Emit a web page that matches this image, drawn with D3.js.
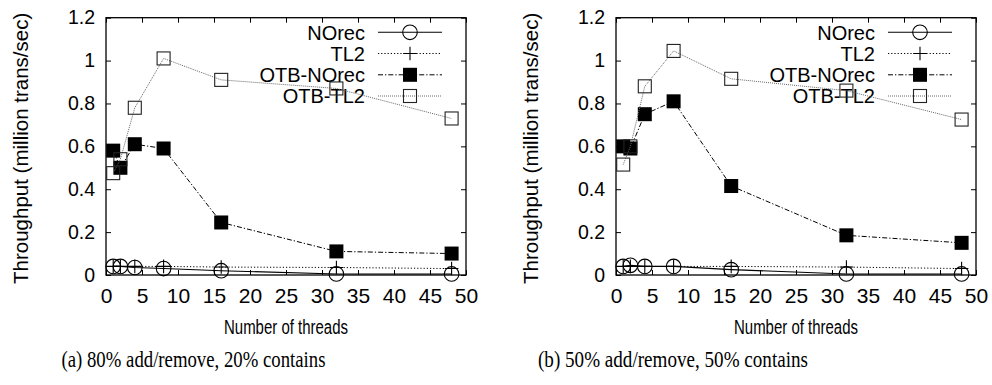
<!DOCTYPE html>
<html>
<head>
<meta charset="utf-8">
<script src="https://cdn.jsdelivr.net/npm/d3@7/dist/d3.min.js"></script>
<style>
  html, body { margin: 0; padding: 0; background: #fff; }
  svg { display: block; }
</style>
</head>
<body>
<svg id="chart" width="992" height="385"></svg>
<script>
// ---- data ----
const threads = [1, 2, 4, 8, 16, 32, 48];
const seriesNames = ["NOrec", "TL2", "OTB-NOrec", "OTB-TL2"];

const norecA    = [0.040, 0.040, 0.035, 0.030, 0.020, 0.005, 0.005];
const tl2A      = [0.040, 0.040, 0.040, 0.040, 0.037, 0.035, 0.030];
const otbNorecA = [0.580, 0.500, 0.610, 0.590, 0.245, 0.110, 0.100];
const otbTl2A   = [0.475, 0.540, 0.780, 1.010, 0.910, 0.870, 0.730];

const norecB    = [0.040, 0.045, 0.040, 0.040, 0.025, 0.005, 0.005];
const tl2B      = [0.040, 0.040, 0.040, 0.040, 0.040, 0.037, 0.030];
const otbNorecB = [0.600, 0.590, 0.750, 0.810, 0.415, 0.185, 0.150];
const otbTl2B   = [0.515, 0.600, 0.880, 1.045, 0.915, 0.860, 0.725];

const xTickValues = [0, 5, 10, 15, 20, 25, 30, 35, 40, 45, 50];
const yTickValues = [0, 0.2, 0.4, 0.6, 0.8, 1, 1.2];
const yTickLabels = ["0", "0.2", "0.4", "0.6", "0.8", "1", "1.2"];

const xTitle = "Number of threads";
const yTitle = "Throughput (million trans/sec)";
const captions = ["(a) 80% add/remove, 20% contains", "(b) 50% add/remove, 50% contains"];

// ---- styles ----
const styles = {
  "NOrec":     { stroke: "#000", dash: null,          width: 1.1, marker: "circle" },
  "TL2":       { stroke: "#000", dash: "1.2,2",       width: 1.0, marker: "plus" },
  "OTB-NOrec": { stroke: "#000", dash: "5,2,1.3,2",   width: 1.0, marker: "fsquare" },
  "OTB-TL2":   { stroke: "#666", dash: "1,1",         width: 1.0, marker: "osquare" }
};

const svg = d3.select("#chart");
const sans = "'Liberation Sans', Arial, Helvetica, sans-serif";

function drawMarker(g, type, cx, cy) {
  if (type === "circle") {
    g.append("circle").attr("cx", cx).attr("cy", cy).attr("r", 7.3)
      .attr("fill", "none").attr("stroke", "#000").attr("stroke-width", 1.1);
  } else if (type === "plus") {
    const s = 6.8;
    g.append("path").attr("d", `M${cx - s},${cy}H${cx + s}M${cx},${cy - s}V${cy + s}`)
      .attr("stroke", "#000").attr("stroke-width", 1.1).attr("fill", "none");
  } else if (type === "fsquare") {
    const s = 7;
    g.append("rect").attr("x", cx - s).attr("y", cy - s).attr("width", 2 * s).attr("height", 2 * s)
      .attr("fill", "#000");
  } else if (type === "osquare") {
    const s = 6.5;
    g.append("rect").attr("x", cx - s).attr("y", cy - s).attr("width", 2 * s).attr("height", 2 * s)
      .attr("fill", "none").attr("stroke", "#222").attr("stroke-width", 1.1);
  }
}

function panel(offsetX, data, caption, captionX, captionW) {
  const x0 = 106 + offsetX, x1 = 466 + offsetX, yTop = 17.7, yBot = 275;
  const x = d3.scaleLinear().domain([0, 50]).range([x0, x1]);
  const y = d3.scaleLinear().domain([0, 1.2]).range([yBot, yTop]);
  const g = svg.append("g");

  // ticks (inward, mirrored)
  const tickLen = 5;
  const bottom = g.append("g").attr("transform", `translate(0,${yBot})`)
    .call(d3.axisBottom(x).tickValues(xTickValues).tickSizeInner(-tickLen).tickSizeOuter(0).tickPadding(13));
  const top = g.append("g").attr("transform", `translate(0,${yTop})`)
    .call(d3.axisTop(x).tickValues(xTickValues).tickSizeInner(-tickLen).tickSizeOuter(0).tickFormat(""));
  const left = g.append("g").attr("transform", `translate(${x0},0)`)
    .call(d3.axisLeft(y).tickValues(yTickValues).tickSizeInner(-tickLen).tickSizeOuter(0).tickPadding(11)
      .tickFormat((d, i) => yTickLabels[i]));
  const right = g.append("g").attr("transform", `translate(${x1},0)`)
    .call(d3.axisRight(y).tickValues(yTickValues).tickSizeInner(-tickLen).tickSizeOuter(0).tickFormat(""));
  [bottom, top, left, right].forEach(a => {
    a.select(".domain").remove();
    a.selectAll("line").attr("stroke", "#000").attr("stroke-width", 1);
  });
  bottom.selectAll("text").attr("font-family", sans).attr("font-size", 21).attr("fill", "#000");
  left.selectAll("text").attr("font-family", sans).attr("font-size", 19.5).attr("fill", "#000");

  // frame
  g.append("rect").attr("x", x0).attr("y", yTop).attr("width", x1 - x0).attr("height", yBot - yTop)
    .attr("fill", "none").attr("stroke", "#000").attr("stroke-width", 1.3);

  // legend
  const lg = g.append("g");
  const rowY = [32.3, 53.5, 74.8, 96];
  seriesNames.forEach((name, i) => {
    const st = styles[name];
    const ly = rowY[i];
    lg.append("text").attr("x", x1 - 101).attr("y", ly).attr("dy", "0.36em")
      .attr("text-anchor", "end").attr("font-family", sans).attr("font-size", 20).attr("fill", "#000")
      .text(name);
    lg.append("line").attr("x1", x1 - 88).attr("x2", x1 - 24).attr("y1", ly).attr("y2", ly)
      .attr("stroke", st.stroke).attr("stroke-width", st.width)
      .attr("stroke-dasharray", st.dash);
    drawMarker(lg, st.marker, x1 - 56, ly);
  });

  // series
  const line = d3.line().x(d => x(d[0])).y(d => y(d[1]));
  seriesNames.forEach((name, si) => {
    const st = styles[name];
    const pts = threads.map((t, i) => [t, data[si][i]]);
    g.append("path").datum(pts).attr("d", line)
      .attr("fill", "none").attr("stroke", st.stroke).attr("stroke-width", st.width)
      .attr("stroke-dasharray", st.dash);
    const mg = g.append("g");
    pts.forEach(p => drawMarker(mg, st.marker, x(p[0]), y(p[1])));
  });

  // axis titles
  g.append("text").attr("x", (x0 + x1) / 2).attr("y", 334).attr("text-anchor", "middle")
    .attr("font-family", sans).attr("font-size", 19.5).attr("textLength", 124)
    .attr("lengthAdjust", "spacingAndGlyphs").attr("fill", "#000").text(xTitle);
  g.append("text").attr("transform", `translate(${x0 - 78},${(yTop + yBot) / 2 + 2}) rotate(-90)`)
    .attr("text-anchor", "middle").attr("font-family", sans).attr("font-size", 20.5).attr("fill", "#000")
    .text(yTitle);

  // caption
  g.append("text").attr("x", captionX).attr("y", 367).attr("text-anchor", "middle")
    .attr("font-family", "'Liberation Serif', 'DejaVu Serif', serif").attr("font-size", 22.5)
    .attr("textLength", captionW).attr("lengthAdjust", "spacingAndGlyphs").attr("fill", "#000")
    .text(caption);
}

panel(0, [norecA, tl2A, otbNorecA, otbTl2A], captions[0], 193.5, 264);
panel(510, [norecB, tl2B, otbNorecB, otbTl2B], captions[1], 673, 270);
</script>
</body>
</html>
